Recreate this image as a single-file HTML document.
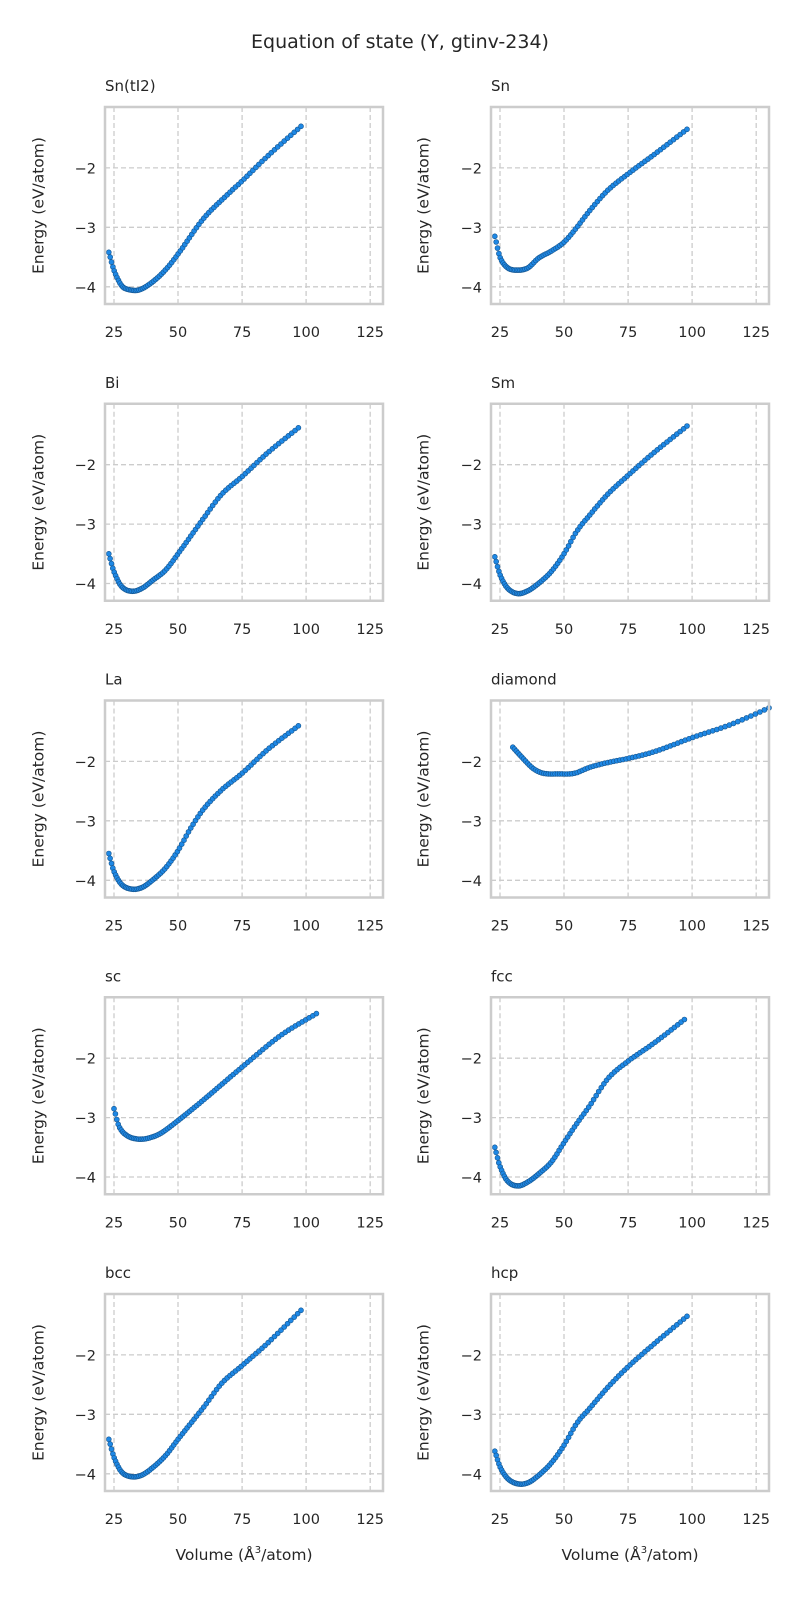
<!DOCTYPE html>
<html><head><meta charset="utf-8"><style>
html,body{margin:0;padding:0;background:#fff;}
svg{display:block;font-family:"DejaVu Sans","Liberation Sans",sans-serif;}
</style></head><body>
<svg id="s" width="800" height="1600" xmlns="http://www.w3.org/2000/svg">
<text x="400" y="48" text-anchor="middle" font-size="19" fill="#262626">Equation of state (Y, gtinv-234)</text>
</svg>
<script>
var panels=[
["Sn(tI2)",[[23,-3.42],[25,-3.72],[28,-3.98],[31,-4.05],[35,-4.05],[40,-3.92],[45,-3.72],[50,-3.45],[60,-2.85],[70,-2.42],[75,-2.22],[85,-1.8],[98,-1.3]]],
["Sn",[[23,-3.15],[25,-3.5],[28,-3.68],[32,-3.72],[36,-3.68],[40,-3.52],[45,-3.4],[50,-3.25],[55,-3.0],[60,-2.72],[67,-2.38],[75,-2.1],[85,-1.78],[98,-1.35]]],
["Bi",[[23,-3.5],[25,-3.8],[28,-4.05],[32,-4.13],[36,-4.08],[40,-3.95],[45,-3.78],[50,-3.5],[60,-2.9],[67,-2.5],[75,-2.2],[85,-1.8],[97,-1.38]]],
["Sm",[[23,-3.55],[25,-3.85],[28,-4.08],[32,-4.17],[36,-4.12],[40,-4.0],[45,-3.8],[50,-3.5],[55,-3.12],[60,-2.85],[67,-2.5],[75,-2.18],[85,-1.8],[98,-1.35]]],
["La",[[23,-3.55],[25,-3.85],[28,-4.07],[32,-4.15],[36,-4.12],[40,-4.0],[45,-3.8],[50,-3.5],[55,-3.12],[60,-2.8],[67,-2.48],[75,-2.2],[85,-1.8],[97,-1.4]]],
["diamond",[[30,-1.76],[34,-1.95],[38,-2.12],[42,-2.2],[48,-2.21],[54,-2.2],[60,-2.1],[67,-2.02],[75,-1.95],[85,-1.84],[100,-1.6],[115,-1.38],[130,-1.1]]],
["sc",[[25,-2.85],[27,-3.15],[30,-3.3],[34,-3.36],[38,-3.35],[43,-3.27],[50,-3.05],[60,-2.7],[75,-2.15],[90,-1.62],[104,-1.25]]],
["fcc",[[23,-3.5],[25,-3.82],[28,-4.07],[32,-4.15],[36,-4.08],[40,-3.95],[45,-3.75],[50,-3.42],[55,-3.1],[60,-2.8],[67,-2.35],[75,-2.05],[85,-1.75],[97,-1.35]]],
["bcc",[[23,-3.42],[25,-3.72],[28,-3.97],[32,-4.05],[36,-4.02],[40,-3.9],[45,-3.7],[50,-3.42],[60,-2.88],[67,-2.48],[75,-2.18],[85,-1.8],[98,-1.25]]],
["hcp",[[23,-3.62],[25,-3.88],[28,-4.08],[32,-4.17],[36,-4.15],[40,-4.03],[45,-3.82],[50,-3.52],[55,-3.15],[60,-2.9],[67,-2.55],[75,-2.2],[85,-1.82],[98,-1.35]]]
];
function interp(c,x){
 var i=0; while(i<c.length-2 && x>c[i+1][0]) i++;
 var p0=c[Math.max(i-1,0)],p1=c[i],p2=c[i+1],p3=c[Math.min(i+2,c.length-1)];
 var t=(x-p1[0])/(p2[0]-p1[0]);
 var m1=(p2[1]-p0[1])/(p2[0]-p0[0])*(p2[0]-p1[0]);
 var m2=(p3[1]-p1[1])/(p3[0]-p1[0])*(p2[0]-p1[0]);
 if(i==0) m1=(p2[1]-p1[1]); if(i+2>=c.length) m2=(p2[1]-p1[1]);
 var t2=t*t,t3=t2*t;
 return (2*t3-3*t2+1)*p1[1]+(t3-2*t2+t)*m1+(-2*t3+3*t2)*p2[1]+(t3-t2)*m2;
}
var h='';
var W=278,H=197;
for(var k=0;k<10;k++){
 var col=k%2,row=Math.floor(k/2);
 var L=col?491:105, T=107+row*296.75;
 var X=function(v){return L+(v-21.5)/(108.5)*W;};
 var Y=function(e){return T+(-0.975-e)/(3.315)*H;};
 [25,50,75,100,125].forEach(function(v){var x=X(v).toFixed(1);
  h+='<line x1="'+x+'" y1="'+T+'" x2="'+x+'" y2="'+(T+H)+'" stroke="#cccccc" stroke-width="1.3" stroke-dasharray="5,3"/>';
  h+='<text x="'+x+'" y="'+(T+H+33)+'" text-anchor="middle" font-size="14.5" fill="#262626">'+v+'</text>';});
 [-2,-3,-4].forEach(function(e){var y=Y(e).toFixed(1);
  h+='<line x1="'+L+'" y1="'+y+'" x2="'+(L+W)+'" y2="'+y+'" stroke="#cccccc" stroke-width="1.3" stroke-dasharray="5,3"/>';
  h+='<text x="'+(L-9)+'" y="'+(+y+5.5)+'" text-anchor="end" font-size="14.5" fill="#262626">\u2212'+(-e)+'</text>';});
 h+='<text x="'+L+'" y="'+(T-16)+'" font-size="15" fill="#262626">'+panels[k][0]+'</text>';
 var ly=T+H/2, lx=col?424:39;
 h+='<text x="'+lx+'" y="'+ly+'" transform="rotate(-90 '+lx+' '+ly+')" text-anchor="middle" dominant-baseline="middle" font-size="15.5" fill="#262626">Energy (eV/atom)</text>';
 if(row==4) h+='<text x="'+(L+W/2)+'" y="'+(T+H+69)+'" text-anchor="middle" font-size="15.5" fill="#262626">Volume (Å<tspan font-size="10" dy="-7">3</tspan><tspan dy="7">/atom)</tspan></text>';
 var c=panels[k][1],x0=c[0][0],x1=c[c.length-1][0],N=85;
 var a0=Math.cbrt(x0),a1=Math.cbrt(x1);
 for(var j=0;j<N;j++){var a=a0+(a1-a0)*j/(N-1);var v=a*a*a;
  h+='<circle cx="'+X(v).toFixed(1)+'" cy="'+Y(interp(c,v)).toFixed(1)+'" r="2.5" fill="#1e88e5" stroke="#15558f" stroke-width="0.6"/>';}
 h+='<rect x="'+L+'" y="'+T+'" width="'+W+'" height="'+H+'" fill="none" stroke="#cccccc" stroke-width="2.5"/>';
}
document.getElementById('s').insertAdjacentHTML('beforeend',h);
</script>
</body></html>
